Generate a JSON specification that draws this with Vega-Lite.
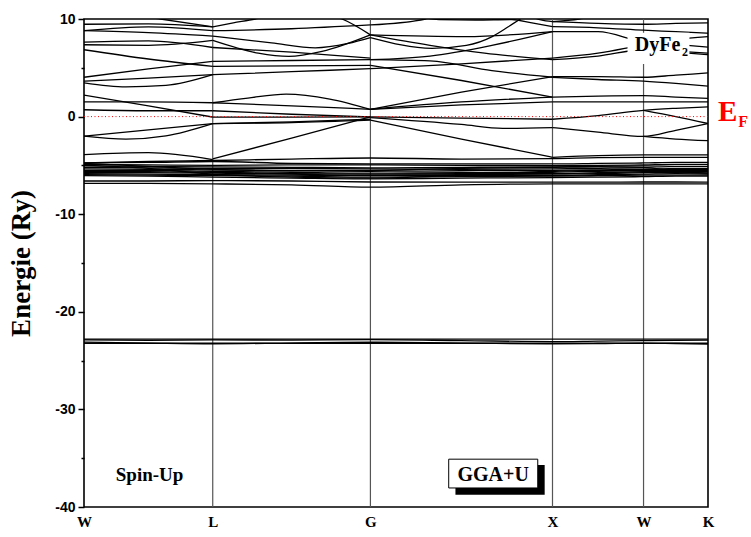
{
"$schema":"https://vega.github.io/schema/vega-lite/v6.json",
"autosize":{"type":"none"},
"padding":{"left":84,"top":19,"right":43,"bottom":30},
"width":624,
"height":488,
"background":"white",
"config":{"view":{"stroke":"black","strokeWidth":1.6}},
"datasets":{
"kp":[{"k":0.707},{"k":1.573},{"k":2.573},{"k":3.073}],
"one":[{"n":1}],
"bands":[
{"b":"s1a","k":0,"e":11.0},{"b":"s1a","k":0.42,"e":10.0},{"b":"s1a","k":0.707,"e":9.2},
{"b":"s1b","k":0,"e":9.46},{"b":"s1b","k":0.354,"e":9.5},{"b":"s1b","k":0.707,"e":9.2},
{"b":"s1c","k":0,"e":8.8},{"b":"s1c","k":0.354,"e":9.2},{"b":"s1c","k":0.707,"e":8.8},
{"b":"s1d","k":0,"e":8.8},{"b":"s1d","k":0.354,"e":8.6},{"b":"s1d","k":0.707,"e":8.25},
{"b":"s1e","k":0,"e":7.63},{"b":"s1e","k":0.354,"e":7.76},{"b":"s1e","k":0.707,"e":7.08},
{"b":"s1f","k":0,"e":7.36},{"b":"s1f","k":0.354,"e":7.3},{"b":"s1f","k":0.707,"e":7.8},
{"b":"s1g","k":0,"e":6.85},{"b":"s1g","k":0.354,"e":5.9},{"b":"s1g","k":0.707,"e":5.15},
{"b":"s1h","k":0,"e":4.03},{"b":"s1h","k":0.354,"e":4.9},{"b":"s1h","k":0.707,"e":5.66},
{"b":"s1i","k":0,"e":3.63},{"b":"s1i","k":0.354,"e":3.95},{"b":"s1i","k":0.707,"e":4.3},
{"b":"s1j","k":0,"e":3.46},{"b":"s1j","k":0.23,"e":3.05},{"b":"s1j","k":0.45,"e":3.2},{"b":"s1j","k":0.707,"e":4.3},
{"b":"s1k","k":0,"e":2.2},{"b":"s1k","k":0.354,"e":1.1},{"b":"s1k","k":0.707,"e":-0.05},
{"b":"s1l","k":0,"e":1.5},{"b":"s1l","k":0.354,"e":1.5},{"b":"s1l","k":0.707,"e":1.42},
{"b":"s1m","k":0,"e":0.7},{"b":"s1m","k":0.354,"e":0.6},{"b":"s1m","k":0.707,"e":0.6},
{"b":"s1n","k":0,"e":-2.0},{"b":"s1n","k":0.354,"e":-1.35},{"b":"s1n","k":0.707,"e":-0.71},
{"b":"s1o","k":0,"e":-2.0},{"b":"s1o","k":0.23,"e":-2.3},{"b":"s1o","k":0.45,"e":-1.97},{"b":"s1o","k":0.707,"e":-0.71},
{"b":"s1p","k":0,"e":-3.9},{"b":"s1p","k":0.354,"e":-3.7},{"b":"s1p","k":0.707,"e":-4.4},
{"b":"s2a","k":0.707,"e":9.2},{"b":"s2a","k":0.82,"e":9.6},{"b":"s2a","k":0.94,"e":10.0},{"b":"s2a","k":1.05,"e":10.5},
{"b":"s2b","k":0.707,"e":8.8},{"b":"s2b","k":1.14,"e":9.0},{"b":"s2b","k":1.573,"e":9.39},
{"b":"s2c","k":1.3,"e":10.6},{"b":"s2c","k":1.417,"e":10.0},{"b":"s2c","k":1.573,"e":8.37},
{"b":"s2d","k":0.707,"e":8.25},{"b":"s2d","k":1.03,"e":7.55},{"b":"s2d","k":1.27,"e":7.05},{"b":"s2d","k":1.45,"e":7.5},{"b":"s2d","k":1.573,"e":8.1},
{"b":"s2e","k":0.707,"e":7.8},{"b":"s2e","k":0.957,"e":6.5},{"b":"s2e","k":1.124,"e":6.17},{"b":"s2e","k":1.307,"e":6.68},{"b":"s2e","k":1.573,"e":8.37},
{"b":"s2f","k":0.707,"e":7.08},{"b":"s2f","k":1.14,"e":6.6},{"b":"s2f","k":1.573,"e":6.0},
{"b":"s2g","k":0.707,"e":5.66},{"b":"s2g","k":1.14,"e":5.75},{"b":"s2g","k":1.573,"e":5.83},
{"b":"s2h","k":0.707,"e":5.15},{"b":"s2h","k":1.14,"e":5.2},{"b":"s2h","k":1.573,"e":5.25},
{"b":"s2i","k":0.707,"e":4.3},{"b":"s2i","k":1.14,"e":4.6},{"b":"s2i","k":1.573,"e":4.91},
{"b":"s2j","k":0.707,"e":1.42},{"b":"s2j","k":0.9,"e":1.9},{"b":"s2j","k":1.11,"e":2.3},{"b":"s2j","k":1.35,"e":1.8},{"b":"s2j","k":1.573,"e":0.75},
{"b":"s2k","k":0.707,"e":1.42},{"b":"s2k","k":1.14,"e":1.1},{"b":"s2k","k":1.573,"e":0.75},
{"b":"s2l","k":0.707,"e":0.6},{"b":"s2l","k":1.14,"e":0.24},{"b":"s2l","k":1.573,"e":-0.03},
{"b":"s2m","k":0.707,"e":-0.05},{"b":"s2m","k":1.14,"e":-0.05},{"b":"s2m","k":1.573,"e":-0.03},
{"b":"s2n","k":0.707,"e":-0.71},{"b":"s2n","k":1.14,"e":-0.55},{"b":"s2n","k":1.573,"e":-0.27},
{"b":"s2o","k":0.707,"e":-0.71},{"b":"s2o","k":1.14,"e":-0.62},{"b":"s2o","k":1.573,"e":-0.37},
{"b":"s2p","k":0.707,"e":-4.34},{"b":"s2p","k":1.14,"e":-2.2},{"b":"s2p","k":1.573,"e":-0.03},
{"b":"s3a","k":1.573,"e":9.39},{"b":"s3a","k":1.876,"e":10.0},{"b":"s3a","k":1.95,"e":10.4},
{"b":"s3b","k":1.8,"e":10.3},{"b":"s3b","k":1.95,"e":9.95},{"b":"s3b","k":2.15,"e":9.9},{"b":"s3b","k":2.35,"e":9.95},{"b":"s3b","k":2.46,"e":9.6},{"b":"s3b","k":2.573,"e":9.22},
{"b":"s3c","k":1.573,"e":8.1},{"b":"s3c","k":1.912,"e":7.0},{"b":"s3c","k":2.1,"e":7.3},{"b":"s3c","k":2.242,"e":8.2},{"b":"s3c","k":2.33,"e":9.2},{"b":"s3c","k":2.42,"e":10.3},
{"b":"s3q","k":2.45,"e":10.3},{"b":"s3q","k":2.51,"e":9.9},{"b":"s3q","k":2.573,"e":9.73},
{"b":"s3d","k":1.573,"e":8.37},{"b":"s3d","k":2.095,"e":8.2},{"b":"s3d","k":2.573,"e":8.71},
{"b":"s3e","k":1.573,"e":8.37},{"b":"s3e","k":1.9,"e":7.3},{"b":"s3e","k":2.2,"e":6.5},{"b":"s3e","k":2.573,"e":5.83},
{"b":"s3f","k":1.573,"e":5.83},{"b":"s3f","k":1.9,"e":6.2},{"b":"s3f","k":2.24,"e":7.3},{"b":"s3f","k":2.573,"e":8.71},
{"b":"s3g","k":1.573,"e":5.83},{"b":"s3g","k":1.9,"e":5.7},{"b":"s3g","k":2.24,"e":4.7},{"b":"s3g","k":2.573,"e":4.03},
{"b":"s3h","k":1.573,"e":5.25},{"b":"s3h","k":2.073,"e":3.7},{"b":"s3h","k":2.573,"e":2.0},
{"b":"s3i","k":1.573,"e":4.91},{"b":"s3i","k":2.073,"e":5.4},{"b":"s3i","k":2.573,"e":6.0},
{"b":"s3j","k":1.573,"e":0.75},{"b":"s3j","k":2.073,"e":2.5},{"b":"s3j","k":2.573,"e":4.1},
{"b":"s3k","k":1.573,"e":0.75},{"b":"s3k","k":2.073,"e":1.5},{"b":"s3k","k":2.573,"e":2.0},
{"b":"s3l","k":1.573,"e":0.75},{"b":"s3l","k":2.073,"e":1.2},{"b":"s3l","k":2.573,"e":1.5},
{"b":"s3m","k":1.573,"e":-0.03},{"b":"s3m","k":2.073,"e":-0.15},{"b":"s3m","k":2.573,"e":-0.27},
{"b":"s3n","k":1.573,"e":-0.1},{"b":"s3n","k":2.073,"e":-0.8},{"b":"s3n","k":2.3,"e":-1.2},{"b":"s3n","k":2.573,"e":-1.12},
{"b":"s3o","k":1.573,"e":-0.37},{"b":"s3o","k":2.073,"e":-2.3},{"b":"s3o","k":2.573,"e":-4.17},
{"b":"s4a","k":2.573,"e":9.73},{"b":"s4a","k":2.72,"e":10.0},{"b":"s4a","k":2.83,"e":10.4},
{"b":"s4b","k":2.573,"e":9.73},{"b":"s4b","k":2.823,"e":9.55},{"b":"s4b","k":3.073,"e":9.46},{"b":"s4b","k":3.25,"e":9.55},{"b":"s4b","k":3.427,"e":9.6},
{"b":"s4c","k":2.573,"e":9.22},{"b":"s4c","k":2.823,"e":9.1},{"b":"s4c","k":3.073,"e":8.85},{"b":"s4c","k":3.25,"e":8.7},{"b":"s4c","k":3.427,"e":8.54},
{"b":"s4d","k":2.573,"e":8.71},{"b":"s4d","k":2.823,"e":8.7},{"b":"s4d","k":3.073,"e":7.63},{"b":"s4d","k":3.25,"e":7.4},{"b":"s4d","k":3.427,"e":7.12},
{"b":"s4e","k":2.573,"e":6.0},{"b":"s4e","k":2.823,"e":6.5},{"b":"s4e","k":3.073,"e":7.36},{"b":"s4e","k":3.25,"e":7.9},{"b":"s4e","k":3.427,"e":8.2},
{"b":"s4f","k":2.573,"e":5.83},{"b":"s4f","k":2.823,"e":6.2},{"b":"s4f","k":3.073,"e":6.85},{"b":"s4f","k":3.25,"e":6.6},{"b":"s4f","k":3.427,"e":6.34},
{"b":"s4g","k":3.073,"e":6.85},{"b":"s4g","k":3.25,"e":6.7},{"b":"s4g","k":3.427,"e":6.5},
{"b":"s4h","k":2.573,"e":4.1},{"b":"s4h","k":2.823,"e":4.1},{"b":"s4h","k":3.073,"e":4.03},{"b":"s4h","k":3.25,"e":4.25},{"b":"s4h","k":3.427,"e":4.47},
{"b":"s4i","k":2.573,"e":4.03},{"b":"s4i","k":2.823,"e":3.8},{"b":"s4i","k":3.073,"e":3.63},{"b":"s4i","k":3.25,"e":3.4},{"b":"s4i","k":3.427,"e":3.12},
{"b":"s4j","k":2.573,"e":2.0},{"b":"s4j","k":2.823,"e":2.1},{"b":"s4j","k":3.073,"e":2.15},{"b":"s4j","k":3.25,"e":2.0},{"b":"s4j","k":3.427,"e":1.86},
{"b":"s4k","k":2.573,"e":1.5},{"b":"s4k","k":3.073,"e":1.5},{"b":"s4k","k":3.427,"e":1.5},
{"b":"s4l","k":2.573,"e":-0.27},{"b":"s4l","k":2.823,"e":0.1},{"b":"s4l","k":3.073,"e":0.64},{"b":"s4l","k":3.25,"e":0.85},{"b":"s4l","k":3.427,"e":1.0},
{"b":"s4m","k":3.073,"e":0.64},{"b":"s4m","k":3.25,"e":0.0},{"b":"s4m","k":3.427,"e":-0.71},
{"b":"s4n","k":2.573,"e":-1.12},{"b":"s4n","k":2.823,"e":-1.6},{"b":"s4n","k":3.073,"e":-2.03},{"b":"s4n","k":3.25,"e":-1.4},{"b":"s4n","k":3.427,"e":-0.71},
{"b":"s4o","k":3.073,"e":-2.03},{"b":"s4o","k":3.25,"e":-2.3},{"b":"s4o","k":3.427,"e":-2.47},
{"b":"s4p","k":2.573,"e":-4.17},{"b":"s4p","k":2.823,"e":-4.0},{"b":"s4p","k":3.073,"e":-3.93},{"b":"s4p","k":3.25,"e":-3.93},{"b":"s4p","k":3.427,"e":-3.93},
{"b":"f00","k":0,"e":-4.75},{"b":"f00","k":0.354,"e":-4.6},{"b":"f00","k":0.707,"e":-4.5},{"b":"f00","k":1.14,"e":-4.35},{"b":"f00","k":1.573,"e":-4.24},{"b":"f00","k":2.073,"e":-4.35},{"b":"f00","k":2.573,"e":-4.3},{"b":"f00","k":2.823,"e":-4.2},{"b":"f00","k":3.073,"e":-4.17},{"b":"f00","k":3.25,"e":-4.17},{"b":"f00","k":3.427,"e":-4.17},
{"b":"f01","k":0,"e":-4.75},{"b":"f01","k":0.354,"e":-4.7},{"b":"f01","k":0.707,"e":-4.6},{"b":"f01","k":1.14,"e":-4.8},{"b":"f01","k":1.573,"e":-4.85},{"b":"f01","k":2.073,"e":-4.85},{"b":"f01","k":2.573,"e":-4.85},{"b":"f01","k":2.823,"e":-4.8},{"b":"f01","k":3.073,"e":-4.75},{"b":"f01","k":3.25,"e":-4.7},{"b":"f01","k":3.427,"e":-4.7},
{"b":"f02","k":0,"e":-4.9},{"b":"f02","k":0.354,"e":-4.95},{"b":"f02","k":0.707,"e":-5.0},{"b":"f02","k":1.14,"e":-4.95},{"b":"f02","k":1.573,"e":-4.95},{"b":"f02","k":2.073,"e":-5.0},{"b":"f02","k":2.573,"e":-5.02},{"b":"f02","k":2.823,"e":-5.0},{"b":"f02","k":3.073,"e":-4.95},{"b":"f02","k":3.25,"e":-4.9},{"b":"f02","k":3.427,"e":-4.9},
{"b":"f03","k":0,"e":-5.05},{"b":"f03","k":0.354,"e":-5.1},{"b":"f03","k":0.707,"e":-5.15},{"b":"f03","k":1.14,"e":-5.2},{"b":"f03","k":1.573,"e":-5.25},{"b":"f03","k":2.073,"e":-5.2},{"b":"f03","k":2.573,"e":-5.15},{"b":"f03","k":2.823,"e":-5.1},{"b":"f03","k":3.073,"e":-5.05},{"b":"f03","k":3.25,"e":-5.1},{"b":"f03","k":3.427,"e":-5.1},
{"b":"f04","k":0,"e":-5.2},{"b":"f04","k":0.354,"e":-5.25},{"b":"f04","k":0.707,"e":-5.3},{"b":"f04","k":1.14,"e":-5.3},{"b":"f04","k":1.573,"e":-5.35},{"b":"f04","k":2.073,"e":-5.4},{"b":"f04","k":2.573,"e":-5.36},{"b":"f04","k":2.823,"e":-5.3},{"b":"f04","k":3.073,"e":-5.25},{"b":"f04","k":3.25,"e":-5.3},{"b":"f04","k":3.427,"e":-5.3},
{"b":"f05","k":0,"e":-5.35},{"b":"f05","k":0.354,"e":-5.4},{"b":"f05","k":0.707,"e":-5.45},{"b":"f05","k":1.14,"e":-5.55},{"b":"f05","k":1.573,"e":-5.6},{"b":"f05","k":2.073,"e":-5.55},{"b":"f05","k":2.573,"e":-5.5},{"b":"f05","k":2.823,"e":-5.45},{"b":"f05","k":3.073,"e":-5.4},{"b":"f05","k":3.25,"e":-5.4},{"b":"f05","k":3.427,"e":-5.45},
{"b":"f06","k":0,"e":-5.5},{"b":"f06","k":0.354,"e":-5.5},{"b":"f06","k":0.707,"e":-5.6},{"b":"f06","k":1.14,"e":-5.7},{"b":"f06","k":1.573,"e":-5.8},{"b":"f06","k":2.073,"e":-5.75},{"b":"f06","k":2.573,"e":-5.7},{"b":"f06","k":2.823,"e":-5.6},{"b":"f06","k":3.073,"e":-5.55},{"b":"f06","k":3.25,"e":-5.5},{"b":"f06","k":3.427,"e":-5.55},
{"b":"f07","k":0,"e":-5.6},{"b":"f07","k":0.354,"e":-5.65},{"b":"f07","k":0.707,"e":-5.7},{"b":"f07","k":1.14,"e":-5.85},{"b":"f07","k":1.573,"e":-5.9},{"b":"f07","k":2.073,"e":-5.85},{"b":"f07","k":2.573,"e":-5.85},{"b":"f07","k":2.823,"e":-5.75},{"b":"f07","k":3.073,"e":-5.65},{"b":"f07","k":3.25,"e":-5.65},{"b":"f07","k":3.427,"e":-5.65},
{"b":"f08","k":0,"e":-5.7},{"b":"f08","k":0.354,"e":-5.75},{"b":"f08","k":0.707,"e":-5.8},{"b":"f08","k":1.14,"e":-5.9},{"b":"f08","k":1.573,"e":-6.0},{"b":"f08","k":2.073,"e":-5.95},{"b":"f08","k":2.573,"e":-5.9},{"b":"f08","k":2.823,"e":-5.85},{"b":"f08","k":3.073,"e":-5.75},{"b":"f08","k":3.25,"e":-5.75},{"b":"f08","k":3.427,"e":-5.8},
{"b":"f09","k":0,"e":-5.85},{"b":"f09","k":0.354,"e":-5.9},{"b":"f09","k":0.707,"e":-5.95},{"b":"f09","k":1.14,"e":-6.0},{"b":"f09","k":1.573,"e":-6.05},{"b":"f09","k":2.073,"e":-6.05},{"b":"f09","k":2.573,"e":-6.04},{"b":"f09","k":2.823,"e":-5.95},{"b":"f09","k":3.073,"e":-5.9},{"b":"f09","k":3.25,"e":-5.85},{"b":"f09","k":3.427,"e":-5.9},
{"b":"f10","k":0,"e":-5.95},{"b":"f10","k":0.354,"e":-6.0},{"b":"f10","k":0.707,"e":-6.05},{"b":"f10","k":1.14,"e":-6.1},{"b":"f10","k":1.573,"e":-6.2},{"b":"f10","k":2.073,"e":-6.15},{"b":"f10","k":2.573,"e":-6.1},{"b":"f10","k":2.823,"e":-6.05},{"b":"f10","k":3.073,"e":-6.0},{"b":"f10","k":3.25,"e":-6.0},{"b":"f10","k":3.427,"e":-6.0},
{"b":"f11","k":0,"e":-6.05},{"b":"f11","k":0.354,"e":-6.1},{"b":"f11","k":0.707,"e":-6.2},{"b":"f11","k":1.14,"e":-6.3},{"b":"f11","k":1.573,"e":-6.38},{"b":"f11","k":2.073,"e":-6.3},{"b":"f11","k":2.573,"e":-6.25},{"b":"f11","k":2.823,"e":-6.2},{"b":"f11","k":3.073,"e":-6.15},{"b":"f11","k":3.25,"e":-6.1},{"b":"f11","k":3.427,"e":-6.1},
{"b":"f12","k":0,"e":-6.6},{"b":"f12","k":0.354,"e":-6.6},{"b":"f12","k":0.707,"e":-6.55},{"b":"f12","k":1.14,"e":-6.6},{"b":"f12","k":1.573,"e":-6.7},{"b":"f12","k":2.073,"e":-6.72},{"b":"f12","k":2.573,"e":-6.72},{"b":"f12","k":2.823,"e":-6.72},{"b":"f12","k":3.073,"e":-6.7},{"b":"f12","k":3.25,"e":-6.7},{"b":"f12","k":3.427,"e":-6.72},
{"b":"f13","k":0,"e":-6.85},{"b":"f13","k":0.354,"e":-6.85},{"b":"f13","k":0.707,"e":-6.89},{"b":"f13","k":1.14,"e":-7.0},{"b":"f13","k":1.573,"e":-7.23},{"b":"f13","k":2.073,"e":-7.0},{"b":"f13","k":2.573,"e":-6.89},{"b":"f13","k":2.823,"e":-6.89},{"b":"f13","k":3.073,"e":-6.89},{"b":"f13","k":3.25,"e":-6.89},{"b":"f13","k":3.427,"e":-6.89},
{"b":"f14","k":0,"e":-4.8},{"b":"f14","k":0.354,"e":-5.1},{"b":"f14","k":0.707,"e":-5.4},{"b":"f14","k":1.14,"e":-5.5},{"b":"f14","k":1.573,"e":-5.5},{"b":"f14","k":2.073,"e":-5.3},{"b":"f14","k":2.573,"e":-5.2},{"b":"f14","k":2.823,"e":-5.15},{"b":"f14","k":3.073,"e":-5.2},{"b":"f14","k":3.25,"e":-5.6},{"b":"f14","k":3.427,"e":-5.8},
{"b":"f15","k":0,"e":-5.0},{"b":"f15","k":0.354,"e":-5.3},{"b":"f15","k":0.707,"e":-5.9},{"b":"f15","k":1.14,"e":-6.2},{"b":"f15","k":1.573,"e":-6.3},{"b":"f15","k":2.073,"e":-6.0},{"b":"f15","k":2.573,"e":-5.6},{"b":"f15","k":2.823,"e":-5.5},{"b":"f15","k":3.073,"e":-5.5},{"b":"f15","k":3.25,"e":-5.4},{"b":"f15","k":3.427,"e":-5.4},
{"b":"d1","k":0,"e":-22.8},{"b":"d1","k":0.707,"e":-22.8},{"b":"d1","k":1.573,"e":-22.8},{"b":"d1","k":2.573,"e":-22.8},{"b":"d1","k":3.073,"e":-22.8},{"b":"d1","k":3.427,"e":-22.8},
{"b":"d2","k":0,"e":-22.88},{"b":"d2","k":0.354,"e":-22.92},{"b":"d2","k":0.707,"e":-22.88},{"b":"d2","k":1.14,"e":-22.9},{"b":"d2","k":1.573,"e":-22.86},{"b":"d2","k":2.073,"e":-22.95},{"b":"d2","k":2.573,"e":-23.05},{"b":"d2","k":2.823,"e":-23.0},{"b":"d2","k":3.073,"e":-22.95},{"b":"d2","k":3.25,"e":-22.92},{"b":"d2","k":3.427,"e":-22.9},
{"b":"d3","k":0,"e":-23.22},{"b":"d3","k":0.707,"e":-23.22},{"b":"d3","k":1.573,"e":-23.22},{"b":"d3","k":2.573,"e":-23.22},{"b":"d3","k":3.073,"e":-23.22},{"b":"d3","k":3.427,"e":-23.22},
{"b":"d4","k":0,"e":-23.1},{"b":"d4","k":0.354,"e":-23.2},{"b":"d4","k":0.707,"e":-23.28},{"b":"d4","k":1.14,"e":-23.2},{"b":"d4","k":1.573,"e":-23.12},{"b":"d4","k":2.073,"e":-23.2},{"b":"d4","k":2.573,"e":-23.28},{"b":"d4","k":2.823,"e":-23.25},{"b":"d4","k":3.073,"e":-23.2},{"b":"d4","k":3.25,"e":-23.25},{"b":"d4","k":3.427,"e":-23.3}
]
},
"layer":[
{"data":{"name":"kp"},
 "mark":{"type":"rule","color":"#555555","strokeWidth":1.2},
 "encoding":{"x":{"field":"k","type":"quantitative","scale":{"domain":[0,3.427],"nice":false,"zero":false}}}},
{"data":{"name":"bands"},
 "mark":{"type":"line","interpolate":"monotone","color":"black","strokeWidth":1.3,"clip":true},
 "encoding":{
  "x":{"field":"k","type":"quantitative","scale":{"domain":[0,3.427],"nice":false,"zero":false},
   "axis":{"title":null,"values":[0,0.707,1.573,2.573,3.073,3.427],
    "labelExpr":"datum.value < 0.1 ? 'W' : datum.value < 1 ? 'L' : datum.value < 2 ? 'G' : datum.value < 3 ? 'X' : datum.value < 3.2 ? 'W' : 'K'",
    "ticks":false,"domain":false,"grid":false,"labelFlush":false,"labelOverlap":false,"labelBound":false,
    "labelFont":"Liberation Serif","labelFontWeight":"bold","labelFontSize":15,"labelColor":"black","labelPadding":7,"labelDx":4}},
  "y":{"field":"e","type":"quantitative","scale":{"domain":[-40,10],"nice":false,"zero":false},
   "axis":{"title":"Energie (Ry)","values":[-40,-35,-30,-25,-20,-15,-10,-5,0,5,10],
    "labelExpr":"datum.value % 10 === 0 ? '' + datum.value : ''",
    "tickSize":{"condition":{"test":"datum.value % 10 === 0","value":6},"value":3},
    "tickColor":"black","tickWidth":1.5,"domain":false,"grid":false,"labelOverlap":false,"labelBound":false,"labelFlush":false,
    "labelFont":"Liberation Sans","labelFontWeight":"bold","labelFontSize":14,"labelColor":"black","labelPadding":3,
    "titleFont":"Liberation Serif","titleFontWeight":"bold","titleFontSize":27,"titleColor":"black","titlePadding":19}},
  "detail":{"field":"b","type":"nominal"}}},
{"data":{"name":"one"},
 "mark":{"type":"rule","color":"#ff0000","strokeWidth":1,"strokeDash":[1,2.5]},
 "encoding":{"y":{"datum":0,"type":"quantitative"}}},
{"data":{"name":"one"},
 "mark":{"type":"rect","fill":"white"},
 "encoding":{"x":{"datum":2.985,"type":"quantitative"},"x2":{"datum":3.325},"y":{"datum":8.6,"type":"quantitative"},"y2":{"datum":5.4}}},
{"data":{"name":"one"},
 "mark":{"type":"text","text":"DyFe","font":"Liberation Serif","fontWeight":"bold","fontSize":20,"align":"center","baseline":"alphabetic","color":"black"},
 "encoding":{"x":{"datum":3.15,"type":"quantitative"},"y":{"datum":6.7,"type":"quantitative"}}},
{"data":{"name":"one"},
 "mark":{"type":"text","text":"2","font":"Liberation Serif","fontWeight":"bold","fontSize":12,"align":"center","baseline":"alphabetic","color":"black"},
 "encoding":{"x":{"datum":3.3,"type":"quantitative"},"y":{"datum":6.2,"type":"quantitative"}}},
{"data":{"name":"one"},
 "mark":{"type":"text","text":"E","font":"Liberation Serif","fontWeight":"bold","fontSize":29,"align":"center","baseline":"alphabetic","color":"#ff0000"},
 "encoding":{"x":{"datum":3.535,"type":"quantitative"},"y":{"datum":-0.4,"type":"quantitative"}}},
{"data":{"name":"one"},
 "mark":{"type":"text","text":"F","font":"Liberation Serif","fontWeight":"bold","fontSize":16,"align":"center","baseline":"alphabetic","color":"#ff0000"},
 "encoding":{"x":{"datum":3.62,"type":"quantitative"},"y":{"datum":-1.1,"type":"quantitative"}}},
{"data":{"name":"one"},
 "mark":{"type":"text","text":"Spin-Up","font":"Liberation Serif","fontWeight":"bold","fontSize":19,"align":"center","baseline":"alphabetic","color":"black"},
 "encoding":{"x":{"datum":0.36,"type":"quantitative"},"y":{"datum":-37.3,"type":"quantitative"}}},
{"data":{"name":"one"},
 "mark":{"type":"rect","fill":"black"},
 "encoding":{"x":{"datum":2.04,"type":"quantitative"},"x2":{"datum":2.53},"y":{"datum":-35.7,"type":"quantitative"},"y2":{"datum":-38.75}}},
{"data":{"name":"one"},
 "mark":{"type":"rect","fill":"white","stroke":"black","strokeWidth":1},
 "encoding":{"x":{"datum":2.003,"type":"quantitative"},"x2":{"datum":2.492},"y":{"datum":-35.1,"type":"quantitative"},"y2":{"datum":-38.05}}},
{"data":{"name":"one"},
 "mark":{"type":"text","text":"GGA+U","font":"Liberation Serif","fontWeight":"bold","fontSize":20,"align":"center","baseline":"alphabetic","color":"black"},
 "encoding":{"x":{"datum":2.247,"type":"quantitative"},"y":{"datum":-37.3,"type":"quantitative"}}}
]
}
